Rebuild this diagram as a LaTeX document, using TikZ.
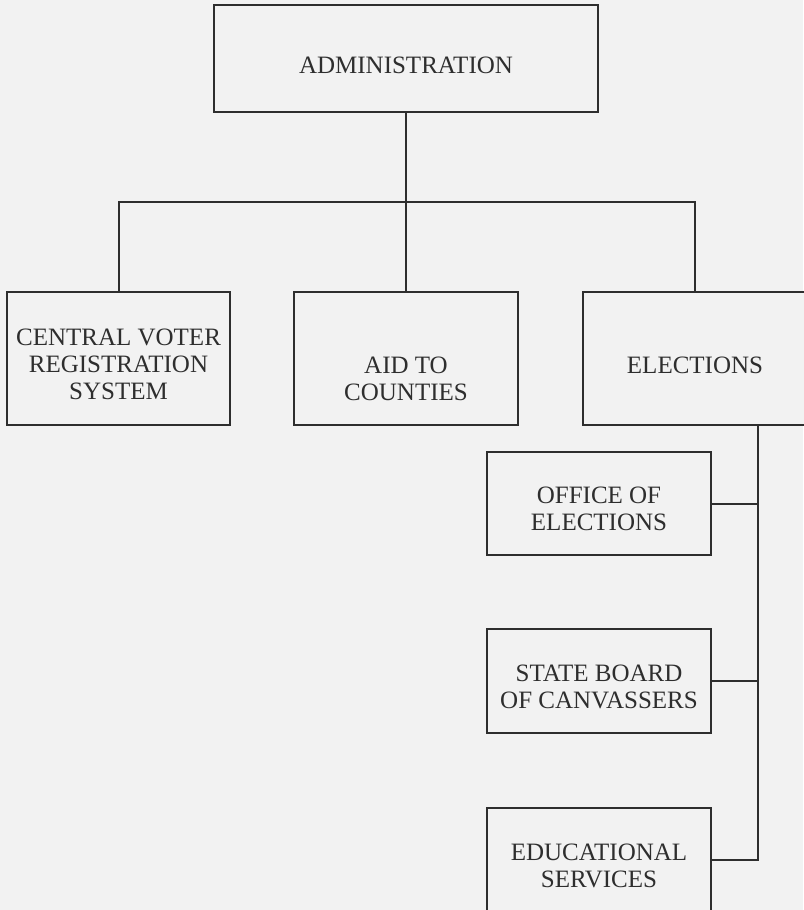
\documentclass[tikz,border=0pt]{standalone}
\usepackage{fontspec}
\setmainfont{Liberation Serif}
\usetikzlibrary{positioning}
\definecolor{ink}{HTML}{2E2E2E}
\definecolor{paper}{HTML}{F2F2F2}
% pushes a label down by half its argument
\newcommand\sinkby[1]{\rule{0pt}{\dimexpr 17pt+#1\relax}}

\begin{document}
\begin{tikzpicture}[x =1pt ,y =-1pt ,node distance =300pt and 288pt ,on grid ,
line width =2pt ,color =ink ,
unit/.style ={ rectangle ,draw =ink ,fill =paper ,text =ink ,align =center ,
inner sep =0pt ,minimum width =224pt ,minimum height =133pt ,
font =\fontsize{25}{27}\selectfont},
sub/.style ={ unit ,minimum height =104pt}]
\fill[paper] (0,0) rectangle (803,910);
\useasboundingbox (0,0) rectangle (803,910);
\node[unit ,minimum width =384pt ,minimum height =107pt] (admin) at (406,58.5) {\sinkby{13pt}ADMINISTRATION};
\node[unit] (aid) [below =300pt of admin] {\sinkby{40pt}AID TO\\COUNTIES};
\node[unit ,minimum width =223pt] (cvrs) [left =287.5pt of aid] {\sinkby{12pt}CENTRAL VOTER\\REGISTRATION\\SYSTEM};
\node[unit ,minimum width =240pt] (elec) [right =297pt of aid] {\sinkby{14pt}\hspace*{-16pt}ELECTIONS};
\node[sub ,minimum height =103pt] (office) [below left =145pt and 104pt of elec] {\sinkby{10pt}OFFICE OF\\ELECTIONS};
\node[sub] (state) [below =177.5pt of office] {\sinkby{11pt}STATE BOARD\\OF CANVASSERS};
\node[sub] (edu) [below =178.5pt of state] {\sinkby{12pt}EDUCATIONAL\\SERVICES};
\coordinate (bus) at (406,202);
\coordinate (spine) at ([xshift =55pt]elec.south);
\draw (admin) -- (aid);
\draw (cvrs.north) |- (bus) -| ([xshift =-8pt]elec.north);
\draw (spine) |- (edu.east);
\draw (office.east) -- (office.east -| spine);
\draw (state.east) -- (state.east -| spine);
\end{tikzpicture}
\end{document}
